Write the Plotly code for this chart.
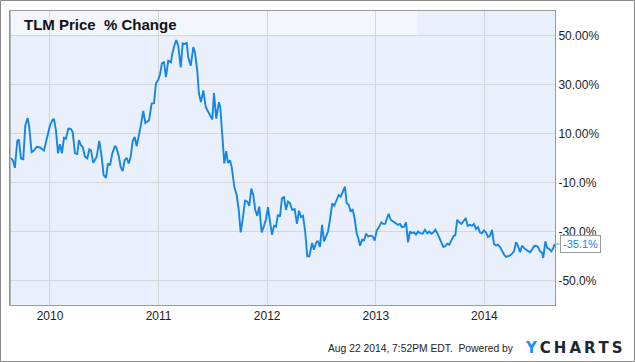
import plotly.graph_objects as go

# Decimal-year positions and % change values (TLM Price % Change)
years = [
    2009.641, 2009.659, 2009.677, 2009.699, 2009.714, 2009.733, 2009.754, 2009.773, 2009.795, 2009.809,
    2009.831, 2009.853, 2009.878, 2009.908, 2009.945, 2009.970, 2010.000, 2010.025, 2010.037, 2010.055,
    2010.074, 2010.092, 2010.110, 2010.129, 2010.147, 2010.169, 2010.191, 2010.209, 2010.230, 2010.251,
    2010.267, 2010.285, 2010.301, 2010.322, 2010.344, 2010.362, 2010.378, 2010.399, 2010.430, 2010.454,
    2010.476, 2010.494, 2010.516, 2010.534, 2010.553, 2010.574, 2010.599, 2010.614, 2010.635, 2010.651,
    2010.669, 2010.688, 2010.706, 2010.725, 2010.743, 2010.762, 2010.780, 2010.798, 2010.817, 2010.835,
    2010.859, 2010.878, 2010.912, 2010.936, 2010.958, 2010.976, 2010.997, 2011.013, 2011.031, 2011.050,
    2011.068, 2011.089, 2011.114, 2011.126, 2011.145, 2011.163, 2011.181, 2011.204, 2011.222, 2011.240,
    2011.259, 2011.273, 2011.296, 2011.320, 2011.335, 2011.356, 2011.372, 2011.390, 2011.412, 2011.434,
    2011.458, 2011.476, 2011.495, 2011.510, 2011.531, 2011.556, 2011.568, 2011.590, 2011.605, 2011.623,
    2011.639, 2011.657, 2011.673, 2011.697, 2011.719, 2011.738, 2011.756, 2011.774, 2011.796, 2011.817,
    2011.835, 2011.854, 2011.872, 2011.890, 2011.909, 2011.927, 2011.949, 2011.971, 2011.989, 2012.007,
    2012.026, 2012.044, 2012.063, 2012.081, 2012.099, 2012.118, 2012.136, 2012.155, 2012.173, 2012.192,
    2012.210, 2012.231, 2012.253, 2012.274, 2012.293, 2012.311, 2012.330, 2012.351, 2012.369, 2012.388,
    2012.413, 2012.431, 2012.449, 2012.465, 2012.486, 2012.505, 2012.523, 2012.541, 2012.560, 2012.578,
    2012.599, 2012.618, 2012.640, 2012.658, 2012.677, 2012.695, 2012.716, 2012.732, 2012.750, 2012.769,
    2012.787, 2012.806, 2012.824, 2012.843, 2012.855, 2012.873, 2012.891, 2012.910, 2012.931, 2012.953,
    2012.971, 2012.990, 2013.008, 2013.032, 2013.051, 2013.069, 2013.087, 2013.100, 2013.119, 2013.137,
    2013.161, 2013.186, 2013.204, 2013.223, 2013.241, 2013.260, 2013.278, 2013.297, 2013.315, 2013.333,
    2013.352, 2013.370, 2013.389, 2013.407, 2013.432, 2013.453, 2013.474, 2013.493, 2013.511, 2013.529,
    2013.548, 2013.566, 2013.585, 2013.603, 2013.622, 2013.640, 2013.658, 2013.677, 2013.695, 2013.714,
    2013.732, 2013.750, 2013.769, 2013.787, 2013.806, 2013.828, 2013.846, 2013.867, 2013.886, 2013.904,
    2013.923, 2013.941, 2013.959, 2013.978, 2013.996, 2014.015, 2014.033, 2014.052, 2014.070, 2014.088,
    2014.107, 2014.125, 2014.144, 2014.162, 2014.180, 2014.199, 2014.217, 2014.236, 2014.254, 2014.273,
    2014.291, 2014.309, 2014.328, 2014.346, 2014.365, 2014.383, 2014.401, 2014.420, 2014.438, 2014.457,
    2014.475, 2014.494, 2014.512, 2014.530, 2014.542, 2014.561, 2014.579, 2014.598, 2014.616, 2014.634,
    2014.647,
]

pct_change = [
    0.0, -1.0, -4.0, 7.0, 7.5, -0.2, -0.5, 13.3, 16.3, 12.7,
    2.4, 3.0, 4.6, 4.3, 3.0, 7.3, 13.3, 15.7, 15.8, 11.3,
    1.9, 5.6, 1.9, 8.2, 7.9, 12.0, 11.9, 10.6, 1.9, 1.6,
    7.3, 5.2, 4.6, 0.5, -0.2, 3.5, 3.0, -2.0, 0.5, 7.0,
    0.5, -7.0, -8.1, -2.2, -3.0, 1.9, 5.0, 3.9, 0.5, -3.8,
    -5.3, -0.9, 0.1, -2.2, 0.5, 7.0, 8.6, 4.8, 8.4, 12.9,
    19.2, 14.3, 15.4, 22.2, 22.4, 30.5, 31.9, 34.1, 38.6, 39.1,
    33.0, 39.7, 39.1, 42.5, 45.8, 48.1, 45.8, 37.0, 46.8, 46.5,
    47.2, 41.1, 37.7, 45.3, 43.1, 35.7, 26.2, 22.8, 27.6, 20.8,
    18.8, 17.4, 15.7, 26.5, 16.1, 22.8, 20.8, 7.3, -2.2, 2.8,
    -2.0, -0.9, -3.6, -11.7, -15.1, -21.2, -30.4, -25.2, -17.4, -17.8,
    -19.5, -12.5, -15.1, -21.2, -23.6, -19.8, -30.4, -27.7, -25.0, -20.1,
    -25.2, -31.3, -27.7, -28.0, -23.2, -23.9, -16.4, -16.0, -21.2, -17.8,
    -18.5, -21.2, -20.9, -26.9, -21.5, -24.1, -23.6, -30.7, -40.1, -40.1,
    -34.7, -37.4, -34.7, -33.8, -36.3, -27.3, -34.0, -32.0, -30.0, -25.2,
    -18.5, -19.5, -17.1, -15.1, -15.8, -13.7, -11.7, -18.5, -19.1, -21.9,
    -20.9, -25.0, -30.7, -33.4, -35.8, -33.4, -33.7, -30.9, -32.0, -31.7,
    -32.0, -33.7, -29.6, -28.0, -26.3, -26.9, -26.9, -25.0, -22.8, -25.2,
    -25.9, -26.6, -27.3, -26.9, -28.2, -28.0, -26.3, -34.4, -30.0, -30.7,
    -30.4, -31.3, -30.0, -30.7, -30.9, -29.3, -30.7, -30.0, -30.9, -30.4,
    -29.3, -30.7, -32.7, -34.7, -36.3, -36.0, -35.0, -35.4, -33.4, -32.0,
    -31.5, -25.2, -26.3, -26.9, -25.9, -24.5, -27.7, -27.3, -27.7, -26.9,
    -29.0, -28.2, -30.4, -30.7, -29.6, -30.4, -32.3, -31.7, -29.3, -35.0,
    -35.8, -35.4, -36.3, -38.1, -39.4, -40.4, -40.1, -39.8, -39.0, -38.1,
    -34.4, -35.8, -38.5, -35.8, -36.8, -37.4, -38.1, -38.5, -37.4, -36.0,
    -35.8, -36.3, -38.1, -38.7, -40.8, -34.0, -36.8, -37.2, -38.1, -36.8,
    -35.1,
]

x_tick_vals = [2010, 2011, 2012, 2013, 2014]
x_tick_text = ["2010", "2011", "2012", "2013", "2014"]
y_tick_vals = [50, 30, 10, -10, -30, -50]
y_tick_text = ["50.00%", "30.00%", "10.00%", "-10.0%", "-30.0%", "-50.0%"]

title_text = "TLM Price\u00a0\u00a0% Change"
footer_text = "Aug 22 2014, 7:52PM EDT.\u00a0 Powered by"
last_label = "-35.1%"

W, H = 635, 362
L, R, T, B = 10, 80, 11, 57
pw, ph = W - L - R, H - T - B


def px_x(p):
    return (p - L) / pw


def px_y(p):
    return (H - B - p) / ph


FONT = "Liberation Sans, Arial, sans-serif"
LINE_COLOR = "#1487e6"

fig = go.Figure()
fig.add_trace(go.Scatter(
    x=years, y=pct_change, mode="lines",
    line=dict(color=LINE_COLOR, width=1.9),
    hoverinfo="skip", showlegend=False,
))

fig.update_layout(
    width=W, height=H,
    margin=dict(l=L, r=R, t=T, b=B, pad=0),
    paper_bgcolor="white",
    plot_bgcolor="#eaf0fb",
    font=dict(family=FONT, size=12, color="#222"),
    showlegend=False,
    xaxis=dict(
        range=[2009.632, 2014.650],
        tickvals=x_tick_vals, ticktext=x_tick_text,
        showgrid=True, gridcolor="#d4d6da", gridwidth=1,
        zeroline=False, showline=True, linecolor="#9a9a9a", linewidth=1, mirror=True,
        ticks="", tickfont=dict(size=12, color="#222"),
        fixedrange=True,
    ),
    yaxis=dict(
        range=[-60, 60], side="right",
        tickvals=y_tick_vals, ticktext=y_tick_text,
        showgrid=True, gridcolor="#d4d6da", gridwidth=1,
        zeroline=False, showline=True, linecolor="#9a9a9a", linewidth=1, mirror=True,
        ticks="", tickfont=dict(size=12, color="#222"),
        fixedrange=True,
    ),
    shapes=[
        # lighter title band
        dict(type="rect", xref="paper", yref="y", x0=0, x1=px_x(417), y0=50, y1=60,
             fillcolor="#f3f6fd", line=dict(width=0), layer="below"),
        # darker left frame
        dict(type="line", xref="paper", yref="paper", x0=0, x1=0, y0=0, y1=1,
             line=dict(color="#808080", width=1)),
        # outer image border
        dict(type="rect", xref="paper", yref="paper",
             x0=px_x(0.5), x1=px_x(634.5), y0=px_y(361.5), y1=px_y(0.5),
             line=dict(color="#8a8a8a", width=1), fillcolor="rgba(0,0,0,0)", layer="above"),
    ],
    annotations=[
        dict(text="<b>" + title_text + "</b>", xref="paper", yref="paper",
             x=px_x(22), y=px_y(24), xanchor="left", yanchor="middle", showarrow=False,
             font=dict(family=FONT, size=15, color="#111")),
        dict(text=footer_text, xref="paper", yref="paper",
             x=px_x(516), y=px_y(348), xanchor="right", yanchor="middle", showarrow=False,
             font=dict(family=FONT, size=10.3, color="#222")),
        dict(text="<b><span style='color:#1f8fe3'>Y</span>\u2009C\u2009H\u2009A\u2009R\u2009T\u2009S</b>",
             xref="paper", yref="paper",
             x=px_x(625), y=px_y(348), xanchor="right", yanchor="middle", showarrow=False,
             font=dict(family="DejaVu Sans", size=15, color="#1c2733")),
        dict(text=last_label, xref="x", yref="y", x=years[-1], y=pct_change[-1],
             showarrow=True, arrowhead=0, arrowwidth=1, arrowcolor="#9a9a9a",
             ax=5, ay=0, xanchor="left", yanchor="middle",
             bgcolor="white", bordercolor="#9a9a9a", borderwidth=1, borderpad=2,
             font=dict(family=FONT, size=11, color=LINE_COLOR)),
    ],
)

fig.write_html(
    "out.html",
    config={"displayModeBar": False},
    post_script="document.body.style.margin='0';document.body.style.overflow='hidden';",
)
